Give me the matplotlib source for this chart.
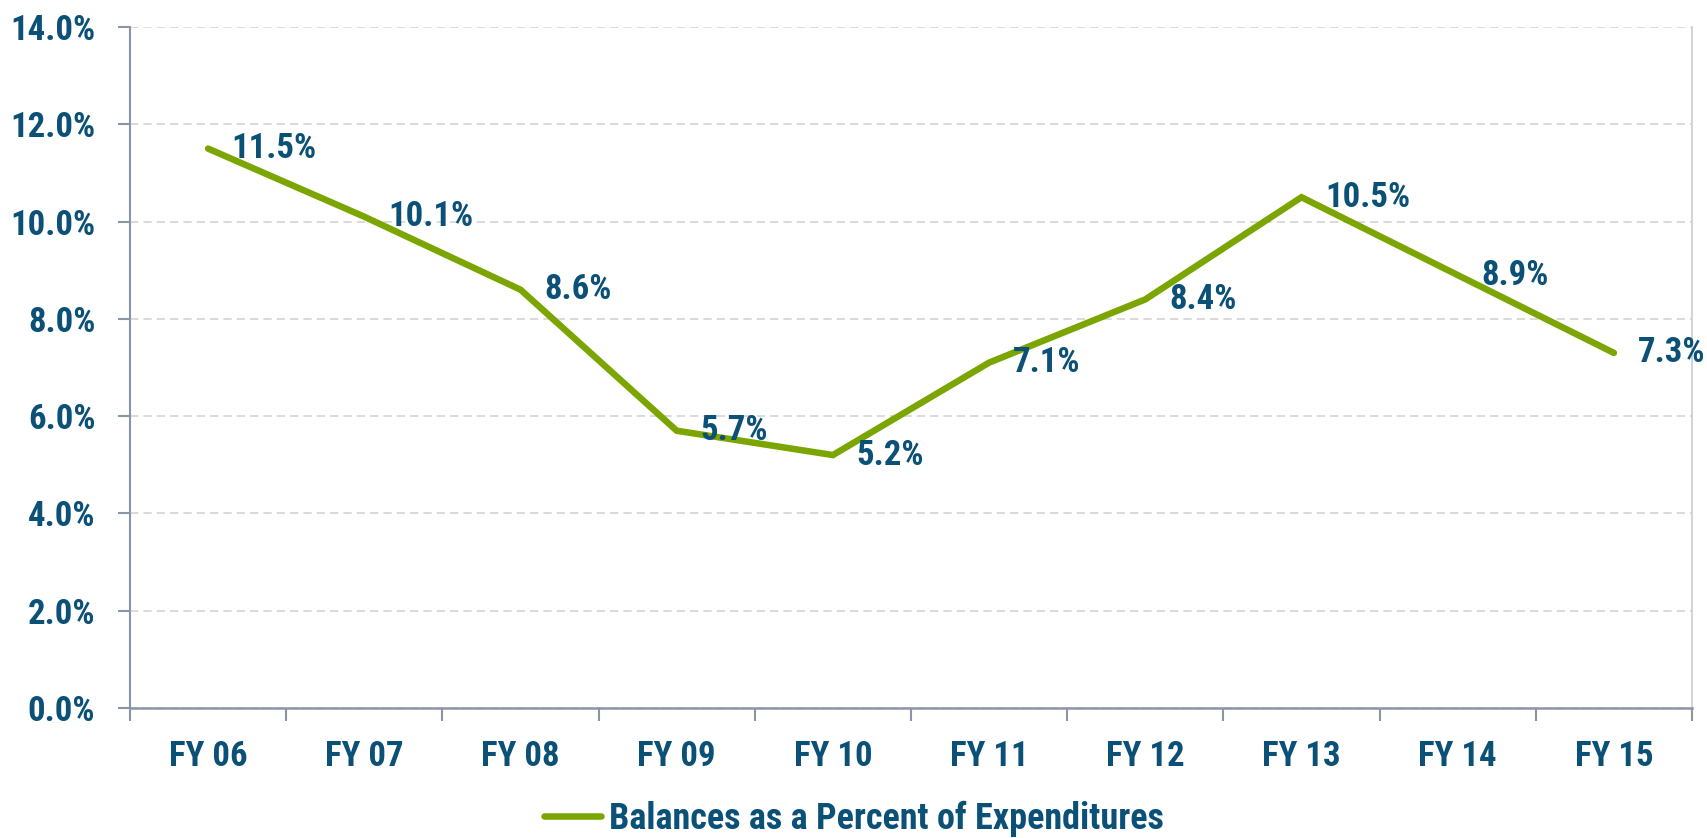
import matplotlib
matplotlib.use("Agg")
import matplotlib.pyplot as plt
from matplotlib import font_manager as fm
from matplotlib.ticker import FuncFormatter

categories = ["FY 06", "FY 07", "FY 08", "FY 09", "FY 10", "FY 11", "FY 12", "FY 13", "FY 14", "FY 15"]
values = [11.5, 10.1, 8.6, 5.7, 5.2, 7.1, 8.4, 10.5, 8.9, 7.3]
series_name = "Balances as a Percent of Expenditures"
yticks = [0, 2, 4, 6, 8, 10, 12, 14]

TEXT = "#0B5077"
LINE = "#7BA500"
SPINE = "#8A96A6"
GRID = "#D4D4D4"

# find a condensed bold font
def pick_font():
    prefs = ['liberationsansnarrow-bold', 'robotocondensed-bold', 'opensanscondensed-bold',
             'dejavusanscondensed-bold', 'notosans-condensedbold', 'notosanscondensed-bold']
    files = [f.fname for f in fm.fontManager.ttflist]
    low = {p: p.lower().replace(' ', '').replace('_', '') for p in files}
    for pref in prefs:
        for p, l in low.items():
            if pref in l and 'italic' not in l:
                return p
    for p, l in low.items():
        if ('condensed' in l or 'narrow' in l) and 'bold' in l and 'italic' not in l and 'semi' not in l and 'extra' not in l:
            return p
    return None

fpath = pick_font()
if fpath:
    FS = 25
    def FP(size=FS):
        return fm.FontProperties(fname=fpath, size=size)
else:
    FS = 21
    def FP(size=FS):
        return fm.FontProperties(family=['Liberation Sans', 'DejaVu Sans'], weight='bold', size=size)

fig = plt.figure(figsize=(17.07, 8.38), dpi=100)
ax = fig.add_axes([130/1707, 1-708/838, (1692-130)/1707, (708-27)/838])

x = list(range(len(categories)))
ax.plot(x, values, color=LINE, lw=4.7, solid_capstyle='round', solid_joinstyle='miter',
        label=series_name, zorder=3)
for xi, v in zip(x, values):
    ax.annotate(f"{v:.1f}%", (xi, v), xytext=(17, 0), textcoords='offset points',
                ha='left', va='center', fontproperties=FP(), color=TEXT, zorder=4)

ax.set_xlim(-0.5, len(categories) - 0.5)
ax.set_ylim(0, 14)
ax.set_yticks(yticks)
ax.yaxis.set_major_formatter(FuncFormatter(lambda v, p: f"{v:.1f}%"))
ax.set_xticks(x)
ax.set_xticklabels(categories)
ax.set_xticks([i - 0.5 for i in range(len(categories) + 1)], minor=True)

ax.tick_params(axis='x', which='major', length=0, pad=23, labelcolor=TEXT)
ax.tick_params(axis='x', which='minor', length=9, width=1.5, color=SPINE, direction='out')
ax.tick_params(axis='y', which='major', length=9, width=1.5, color=SPINE, pad=16,
               labelcolor=TEXT)
for lab in ax.get_xticklabels() + ax.get_yticklabels():
    lab.set_fontproperties(FP())

ax.grid(axis='y', color=GRID, ls=(0, (5, 3)), lw=1.2, zorder=0)
ax.set_axisbelow(True)
ax.spines['top'].set_visible(False)
ax.spines['left'].set_color(SPINE)
ax.spines['left'].set_linewidth(1.5)
ax.spines['bottom'].set_color(SPINE)
ax.spines['bottom'].set_linewidth(1.8)
ax.spines['right'].set_color("#C8CCD2")
ax.spines['right'].set_linewidth(1.2)

leg = fig.legend(loc='center', bbox_to_anchor=(0.5, 1 - 819/838), frameon=False,
                 handlelength=1.6, handletextpad=0.2, labelcolor=TEXT, prop=FP(26))

fig.savefig("out.png", dpi=100)
